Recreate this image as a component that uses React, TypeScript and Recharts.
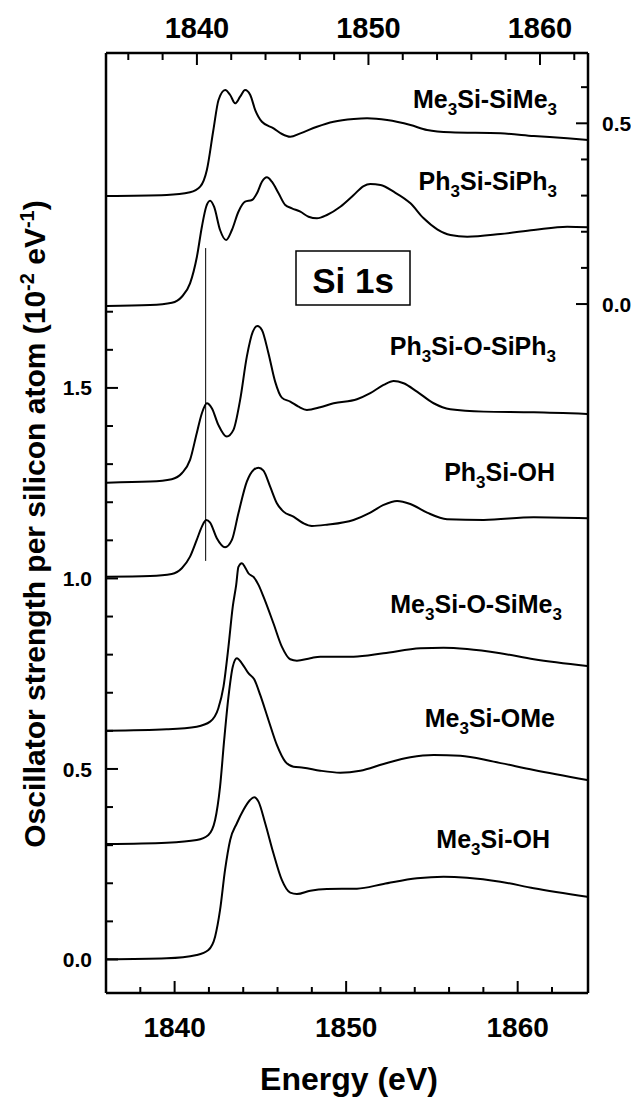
import { Line, LineChart, XAxis, YAxis } from 'recharts'

type Pt = [number, number]

// energy (eV, bottom axis) vs oscillator strength (left axis)
const PH3SI_O_SIPH3: Pt[] = [
  [1836.04, 1.2514], [1838.57, 1.2541], [1839.83, 1.2604], [1840.42, 1.2761], [1840.9, 1.311],
  [1841.29, 1.3811], [1841.59, 1.4336], [1841.88, 1.4598], [1842.17, 1.4467], [1842.55, 1.4029],
  [1843.04, 1.3722], [1843.43, 1.3898], [1843.82, 1.4685], [1844.21, 1.5822], [1844.56, 1.6478],
  [1844.83, 1.6627], [1845.09, 1.6522], [1845.47, 1.5911], [1845.86, 1.5165], [1846.25, 1.4745],
  [1846.74, 1.464], [1847.22, 1.4509], [1847.71, 1.4423], [1848.49, 1.4493], [1849.27, 1.4598],
  [1850.63, 1.4703], [1851.41, 1.4861], [1852.18, 1.5079], [1852.77, 1.5184], [1853.35, 1.5123],
  [1854.13, 1.4903], [1855.1, 1.4598], [1856.07, 1.4441], [1858.02, 1.4378], [1860.94, 1.4362],
  [1864.05, 1.4318],
]

const PH3SI_OH: Pt[] = [
  [1836.04, 1.0047], [1838.57, 1.0066], [1839.83, 1.0118], [1840.42, 1.0268], [1840.9, 1.0572],
  [1841.29, 1.1011], [1841.59, 1.136], [1841.84, 1.1535], [1842.07, 1.1465], [1842.46, 1.1055],
  [1842.94, 1.0819], [1843.34, 1.1011], [1843.72, 1.1711], [1844.21, 1.2541], [1844.6, 1.2848],
  [1844.89, 1.2908], [1845.18, 1.2829], [1845.57, 1.2409], [1845.96, 1.1974], [1846.35, 1.1753],
  [1846.93, 1.1622], [1847.51, 1.1449], [1848.0, 1.1378], [1848.88, 1.1412], [1850.43, 1.1535],
  [1851.41, 1.1727], [1852.18, 1.1929], [1852.97, 1.2034], [1853.74, 1.1955], [1854.72, 1.1727],
  [1855.88, 1.1554], [1858.02, 1.1535], [1860.94, 1.1606], [1864.05, 1.158],
]

const ME3SI_O_SIME3: Pt[] = [
  [1836.04, 0.6005], [1839.54, 0.6042], [1841.29, 0.611], [1842.07, 0.6241], [1842.55, 0.6593],
  [1842.85, 0.716], [1843.14, 0.821], [1843.39, 0.926], [1843.59, 0.983], [1843.72, 1.0302],
  [1843.92, 1.0399], [1844.11, 1.0289], [1844.3, 1.0136], [1844.6, 1.0039], [1844.89, 0.983],
  [1845.18, 0.9522], [1845.76, 0.8824], [1846.25, 0.821], [1846.74, 0.7879], [1847.13, 0.7843],
  [1847.91, 0.7906], [1848.49, 0.7948], [1850.43, 0.7948], [1852.18, 0.8037], [1854.33, 0.8168],
  [1855.68, 0.8184], [1857.05, 0.815], [1858.99, 0.8037], [1860.94, 0.7879], [1864.05, 0.7703],
]

const ME3SI_OME: Pt[] = [
  [1836.04, 0.3031], [1839.54, 0.3066], [1841.29, 0.3136], [1841.97, 0.3268], [1842.36, 0.3661],
  [1842.65, 0.4535], [1842.89, 0.5761], [1843.14, 0.6898], [1843.39, 0.7685], [1843.63, 0.7906],
  [1843.92, 0.7774], [1844.3, 0.7512], [1844.64, 0.7354], [1844.99, 0.6942], [1845.47, 0.6286],
  [1845.96, 0.563], [1846.45, 0.5192], [1846.93, 0.506], [1847.51, 0.5034], [1848.49, 0.4955],
  [1849.66, 0.4903], [1850.82, 0.4955], [1852.18, 0.5131], [1853.74, 0.5307], [1855.1, 0.5367],
  [1856.66, 0.5349], [1858.6, 0.5192], [1860.94, 0.4974], [1864.05, 0.4711],
]

const ME3SI_OH: Pt[] = [
  [1836.04, 0.0005], [1839.54, 0.0031], [1841.29, 0.0118], [1841.97, 0.0249], [1842.36, 0.0598],
  [1842.65, 0.1299], [1842.94, 0.2349], [1843.24, 0.3136], [1843.63, 0.3575], [1844.01, 0.3924],
  [1844.4, 0.4186], [1844.64, 0.4257], [1844.89, 0.4142], [1845.28, 0.3575], [1845.76, 0.2787],
  [1846.25, 0.2087], [1846.74, 0.1753], [1847.13, 0.1719], [1847.91, 0.1806], [1848.88, 0.185],
  [1850.63, 0.1858], [1852.18, 0.1982], [1854.13, 0.2131], [1855.68, 0.2173], [1857.05, 0.2147],
  [1858.99, 0.2042], [1860.94, 0.1869], [1864.05, 0.1648],
]

// these two go against the top energy axis and the right-hand scale
const ME3SI_SIME3: Pt[] = [
  [1834.74, 0.2988], [1838.24, 0.3016], [1839.6, 0.309], [1840.19, 0.3246], [1840.58, 0.3708],
  [1840.96, 0.4815], [1841.26, 0.5645], [1841.65, 0.5921], [1841.94, 0.5783], [1842.23, 0.5553],
  [1842.52, 0.5736], [1842.81, 0.5921], [1843.11, 0.5783], [1843.4, 0.5368], [1843.79, 0.5044],
  [1844.47, 0.4862], [1844.96, 0.4704], [1845.44, 0.4629], [1846.03, 0.4723], [1847.0, 0.4906],
  [1847.97, 0.5044], [1849.14, 0.5119], [1849.92, 0.5138], [1851.09, 0.5091], [1852.45, 0.4953],
  [1853.42, 0.4815], [1854.78, 0.4751], [1857.7, 0.4723], [1859.64, 0.4649], [1861.59, 0.4585],
  [1862.8, 0.4538],
]

const PH3SI_SIPH3: Pt[] = [
  [1834.74, -0.0055], [1837.27, -0.0028], [1838.54, 0.0036], [1839.12, 0.0202], [1839.6, 0.0573],
  [1840.0, 0.1309], [1840.29, 0.2139], [1840.54, 0.2692], [1840.77, 0.2858], [1841.0, 0.2692],
  [1841.35, 0.2048], [1841.7, 0.1771], [1842.04, 0.2048], [1842.42, 0.2554], [1842.81, 0.2831],
  [1843.21, 0.2878], [1843.5, 0.3063], [1843.79, 0.3384], [1844.08, 0.3506], [1844.37, 0.3384],
  [1844.76, 0.3063], [1845.15, 0.2739], [1845.54, 0.2648], [1846.03, 0.2554], [1846.51, 0.2416],
  [1847.0, 0.2371], [1847.58, 0.2463], [1848.36, 0.2692], [1849.14, 0.3016], [1849.72, 0.3265],
  [1850.11, 0.332], [1850.7, 0.3293], [1851.47, 0.3107], [1852.45, 0.2786], [1853.22, 0.2371],
  [1854.01, 0.2067], [1854.78, 0.1909], [1855.76, 0.1862], [1857.7, 0.1937], [1859.64, 0.2048],
  [1861.59, 0.2139], [1862.8, 0.2122],
]

// thin vertical marker at the first Ph3Si peak
const MARKER: Pt[] = [[1841.81, 1.046], [1841.81, 1.867]]

const BOTTOM_TICKS = [1838, 1840, 1842, 1844, 1846, 1848, 1850, 1852, 1854, 1856, 1858, 1860, 1862]
const TOP_TICKS = [1836, 1838, 1840, 1842, 1844, 1846, 1848, 1850, 1852, 1854, 1856, 1858, 1860, 1862]
const X_LABELS = [1840, 1850, 1860]
const LEFT_TICKS = [0, 0.1, 0.2, 0.3, 0.4, 0.5, 0.6, 0.7, 0.8, 0.9, 1.0, 1.1, 1.2, 1.3, 1.4, 1.5, 1.6, 1.7]
const LEFT_LABELS = [0, 0.5, 1.0, 1.5]
const RIGHT_TICKS = [0, 0.1, 0.2, 0.3, 0.4, 0.5, 0.6]
const RIGHT_LABELS = [0, 0.5]

const FONT = '"Liberation Sans", Arial, Helvetica, sans-serif'
const INK = '#000'

const rows = (pts: Pt[]) => pts.map(([e, v]) => ({ e, v }))
const isLabel = (list: number[], v: number) => list.some((l) => Math.abs(l - v) < 1e-6)

function BottomTick({ x, y, payload }: any) {
  const major = isLabel(X_LABELS, payload.value)
  return (
    <g>
      <line x1={x} x2={x} y1={y} y2={y - (major ? 12 : 6)} stroke={INK} strokeWidth={2} />
      {major && (
        <text x={x} y={y + 44} textAnchor="middle" fontSize={28} fontWeight={700} fontFamily={FONT} fill={INK}>
          {payload.value}
        </text>
      )}
    </g>
  )
}

function TopTick({ x, y, payload }: any) {
  const major = isLabel(X_LABELS, payload.value)
  return (
    <g>
      <line x1={x} x2={x} y1={y} y2={y + (major ? 12 : 7)} stroke={INK} strokeWidth={2} />
      {major && (
        <text x={x} y={y - 15} textAnchor="middle" fontSize={29} fontWeight={700} fontFamily={FONT} fill={INK}>
          {payload.value}
        </text>
      )}
    </g>
  )
}

function LeftTick({ x, y, payload }: any) {
  const major = isLabel(LEFT_LABELS, payload.value)
  return (
    <g>
      <line x1={x} x2={x + (major ? 12 : 7)} y1={y} y2={y} stroke={INK} strokeWidth={2} />
      {major && (
        <text x={x - 14} y={y} dy="0.36em" textAnchor="end" fontSize={21} fontWeight={700} fontFamily={FONT} fill={INK}>
          {payload.value.toFixed(1)}
        </text>
      )}
    </g>
  )
}

function RightTick({ x, y, payload }: any) {
  const major = isLabel(RIGHT_LABELS, payload.value)
  return (
    <g>
      <line x1={x} x2={x - (major ? 12 : 7)} y1={y} y2={y} stroke={INK} strokeWidth={2} />
      {major && (
        <text x={x + 14} y={y} dy="0.36em" textAnchor="start" fontSize={21} fontWeight={700} fontFamily={FONT} fill={INK}>
          {payload.value.toFixed(1)}
        </text>
      )}
    </g>
  )
}

// "Me_3Si" -> Me + subscript 3 + Si
function Formula({ x, y, text }: { x: number; y: number; text: string }) {
  const parts = text.split(/_(\d)/)
  return (
    <text x={x} y={y} textAnchor="end" fontSize={25} fontWeight={700} fontFamily={FONT} fill={INK}>
      {parts.map((p, i) =>
        i % 2 === 1 ? (
          <tspan key={i} fontSize={17} dy={7}>{p}</tspan>
        ) : p ? (
          <tspan key={i} dy={i > 0 ? -7 : 0}>{p}</tspan>
        ) : null,
      )}
    </text>
  )
}

const axisLine = { stroke: INK, strokeWidth: 2.5 }

export default function App() {
  return (
    <div style={{ position: 'relative', width: 631, height: 1089, background: '#fff' }}>
      <LineChart width={631} height={1089} margin={{ top: 15, right: 6, bottom: 44, left: 38 }}>
        <XAxis
          xAxisId="bottom"
          dataKey="e"
          type="number"
          domain={[1836, 1864.1]}
          allowDataOverflow
          ticks={BOTTOM_TICKS}
          interval={0}
          height={60}
          tickSize={0}
          tickMargin={0}
          tickLine={false}
          axisLine={axisLine}
          tick={<BottomTick />}
        />
        <XAxis
          xAxisId="top"
          orientation="top"
          dataKey="e"
          type="number"
          domain={[1834.7, 1862.8]}
          allowDataOverflow
          ticks={TOP_TICKS}
          interval={0}
          height={30}
          tickSize={0}
          tickMargin={0}
          tickLine={false}
          axisLine={axisLine}
          tick={<TopTick />}
        />
        <YAxis
          yAxisId="left"
          type="number"
          domain={[-0.088, 2.379]}
          allowDataOverflow
          ticks={LEFT_TICKS}
          interval={0}
          width={60}
          tickSize={0}
          tickMargin={0}
          tickLine={false}
          axisLine={axisLine}
          tick={<LeftTick />}
        />
        <YAxis
          yAxisId="right"
          orientation="right"
          type="number"
          domain={[-1.906, 0.6945]}
          allowDataOverflow
          ticks={RIGHT_TICKS}
          interval={0}
          width={45}
          tickSize={0}
          tickMargin={0}
          tickLine={false}
          axisLine={axisLine}
          tick={<RightTick />}
        />

        {[PH3SI_O_SIPH3, PH3SI_OH, ME3SI_O_SIME3, ME3SI_OME, ME3SI_OH].map((pts, i) => (
          <Line
            key={i}
            data={rows(pts)}
            dataKey="v"
            xAxisId="bottom"
            yAxisId="left"
            type="monotone"
            stroke={INK}
            strokeWidth={2}
            dot={false}
            isAnimationActive={false}
          />
        ))}
        {[ME3SI_SIME3, PH3SI_SIPH3].map((pts, i) => (
          <Line
            key={`t${i}`}
            data={rows(pts)}
            dataKey="v"
            xAxisId="top"
            yAxisId="right"
            type="monotone"
            stroke={INK}
            strokeWidth={2}
            dot={false}
            isAnimationActive={false}
          />
        ))}
        <Line
          data={rows(MARKER)}
          dataKey="v"
          xAxisId="bottom"
          yAxisId="left"
          type="linear"
          stroke={INK}
          strokeWidth={1}
          dot={false}
          isAnimationActive={false}
        />
      </LineChart>

      <svg width={631} height={1089} style={{ position: 'absolute', left: 0, top: 0, pointerEvents: 'none' }}>
        <Formula x={549} y={100} text="Me_3Si-SiMe_3" />
        <Formula x={549} y={182} text="Ph_3Si-SiPh_3" />
        <Formula x={548} y={347} text="Ph_3Si-O-SiPh_3" />
        <Formula x={547} y={473} text="Ph_3Si-OH" />
        <Formula x={554} y={605} text="Me_3Si-O-SiMe_3" />
        <Formula x={547} y={719} text="Me_3Si-OMe" />
        <Formula x={542} y={840} text="Me_3Si-OH" />

        <rect x={288} y={243} width={114} height={54} fill="none" stroke={INK} strokeWidth={1.5} />
        <text x={345} y={285} textAnchor="middle" fontSize={35} fontWeight={700} fontFamily={FONT} fill={INK}>
          Si 1s
        </text>

        <text x={341} y={1082} textAnchor="middle" fontSize={32} fontWeight={700} fontFamily={FONT} fill={INK}>
          Energy (eV)
        </text>
        <text
          x={37}
          y={516}
          transform="rotate(-90 37 516)"
          textAnchor="middle"
          fontSize={30}
          fontWeight={700}
          fontFamily={FONT}
          fill={INK}
        >
          Oscillator strength per silicon atom (10
          <tspan fontSize={20} dy={-11}>-2</tspan>
          <tspan dy={11}> eV</tspan>
          <tspan fontSize={20} dy={-11}>-1</tspan>
          <tspan dy={11}>)</tspan>
        </text>
      </svg>
    </div>
  )
}
